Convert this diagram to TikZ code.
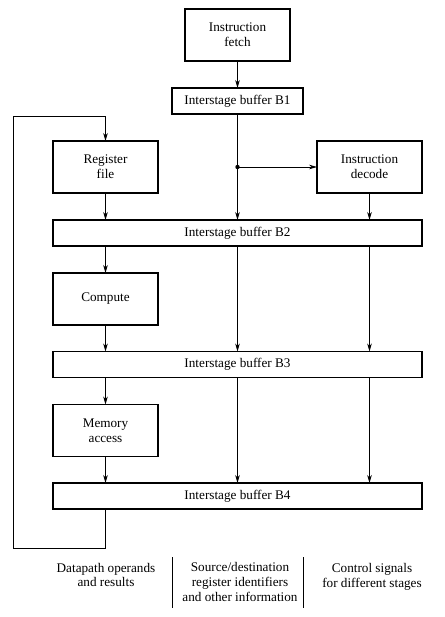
\documentclass[tikz,border=0pt]{standalone}
\usepackage{fontspec}
\setmainfont{Liberation Serif}
\usetikzlibrary{arrows.meta}
\begin{document}
\begin{tikzpicture}[x=1pt,y=-1pt,
  every node/.style={font=\fontsize{13.2}{14.8}\selectfont},
  stagebox/.style={draw,line width=1.6pt,minimum width=105pt,minimum height=52pt,inner sep=0pt,outer sep=0pt,align=center},
  bufbox/.style={draw,line width=1.6pt,minimum height=26pt,inner sep=0pt,outer sep=0pt},
  conn/.style={line width=0.9pt,-{Stealth[length=8pt,width=4.6pt]}},
  wire/.style={line width=0.9pt},
  lbl/.style={align=center,inner sep=0pt}]
\useasboundingbox (0,0) rectangle (444,617);
\node[stagebox] (IF) at (237.5,35) {Instruction\\fetch};
\node[bufbox,minimum width=131pt] (B1) at (237.5,101) {Interstage buffer B1};
\node[stagebox] (RF) at (105.5,167) {Register\\file};
\node[stagebox] (ID) at (369.5,167) {Instruction\\decode};
\node[bufbox,minimum width=369pt] (B2) at (237.5,233) {Interstage buffer B2};
\node[stagebox] (CO) at (105.5,299) {Compute};
\node[bufbox,minimum width=369pt] (B3) at (237.5,364.5) {Interstage buffer B3};
\node[stagebox] (MA) at (105.5,430.5) {Memory\\access};
\node[bufbox,minimum width=369pt] (B4) at (237.5,496) {Interstage buffer B4};
\coordinate (J) at (237.5,167);
\coordinate (L1) at (105.5,548);
\coordinate (L2) at (13,548);
\coordinate (L3) at (13,116);
\coordinate (L4) at (105.5,116);
% connectors
\draw[conn] (IF.south) -- (B1.north);
\draw[conn] (B1.south) -- (B2.north -| B1);
\fill (J) circle (2.2pt);
\draw[conn] (J) -- (ID.west);
\draw[conn] (RF.south) -- (B2.north -| RF);
\draw[conn] (ID.south) -- (B2.north -| ID);
\draw[conn] (B2.south -| CO) -- (CO.north);
\draw[conn] (B2.south) -- (B3.north);
\draw[conn] (B2.south -| ID) -- (B3.north -| ID);
\draw[conn] (CO.south) -- (B3.north -| CO);
\draw[conn] (B3.south -| MA) -- (MA.north);
\draw[conn] (B3.south) -- (B4.north);
\draw[conn] (B3.south -| ID) -- (B4.north -| ID);
\draw[conn] (MA.south) -- (B4.north -| MA);
\draw[conn] (B4.south -| MA) -- (L1) -- (L2) -- (L3) -- (L4) -- (RF.north);
% labels
\node[lbl] (T1) at (106,575) {Datapath operands\\and results};
\node[lbl] (T2) at (240,582) {Source/destination\\register identifiers\\and other information};
\node[lbl] (T3) at (372,577) {Control signals\\for different stages};
\coordinate (S1a) at (172,557);
\coordinate (S1b) at (172,608);
\coordinate (S2a) at (303,557);
\coordinate (S2b) at (303,608);
\draw[wire] (S1a) -- (S1b);
\draw[wire] (S2a) -- (S2b);
\end{tikzpicture}
\end{document}
